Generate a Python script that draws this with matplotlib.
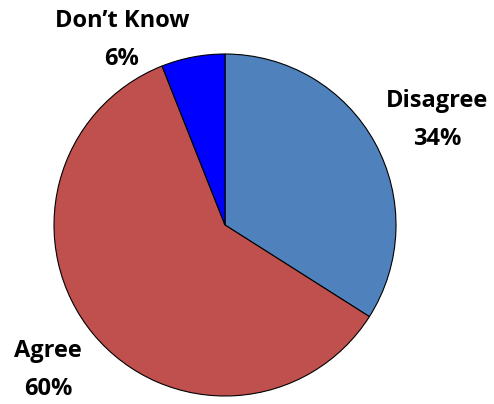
import matplotlib.pyplot as plt

labels = ["Disagree", "Agree", "Don\u2019t Know"]
values = [34, 60, 6]
colors = ["#4F81BD", "#C0504D", "#0000FF"]

W, H = 494, 404
fig = plt.figure(figsize=(W / 100, H / 100), dpi=100)
ax = fig.add_axes([0, 0, 1, 1])

cx, cy, r = 225, H - 225, 171
ax.pie(values, colors=colors, startangle=90, counterclock=False,
       center=(cx, cy), radius=r, frame=True,
       wedgeprops=dict(edgecolor="black", linewidth=0.8))
ax.set_xlim(0, W)
ax.set_ylim(0, H)
ax.axis("off")

# label positions in pixels (x, y from top)
label_pos = [(437, 120), (48, 370), (122, 40)]
for lab, v, (px, py) in zip(labels, values, label_pos):
    ax.text(px, H - py, f"{lab}\n{v}%", ha="center", va="center",
            fontsize=17, fontweight="bold", family="Open Sans", linespacing=1.75)

fig.savefig("out.png", dpi=100)
